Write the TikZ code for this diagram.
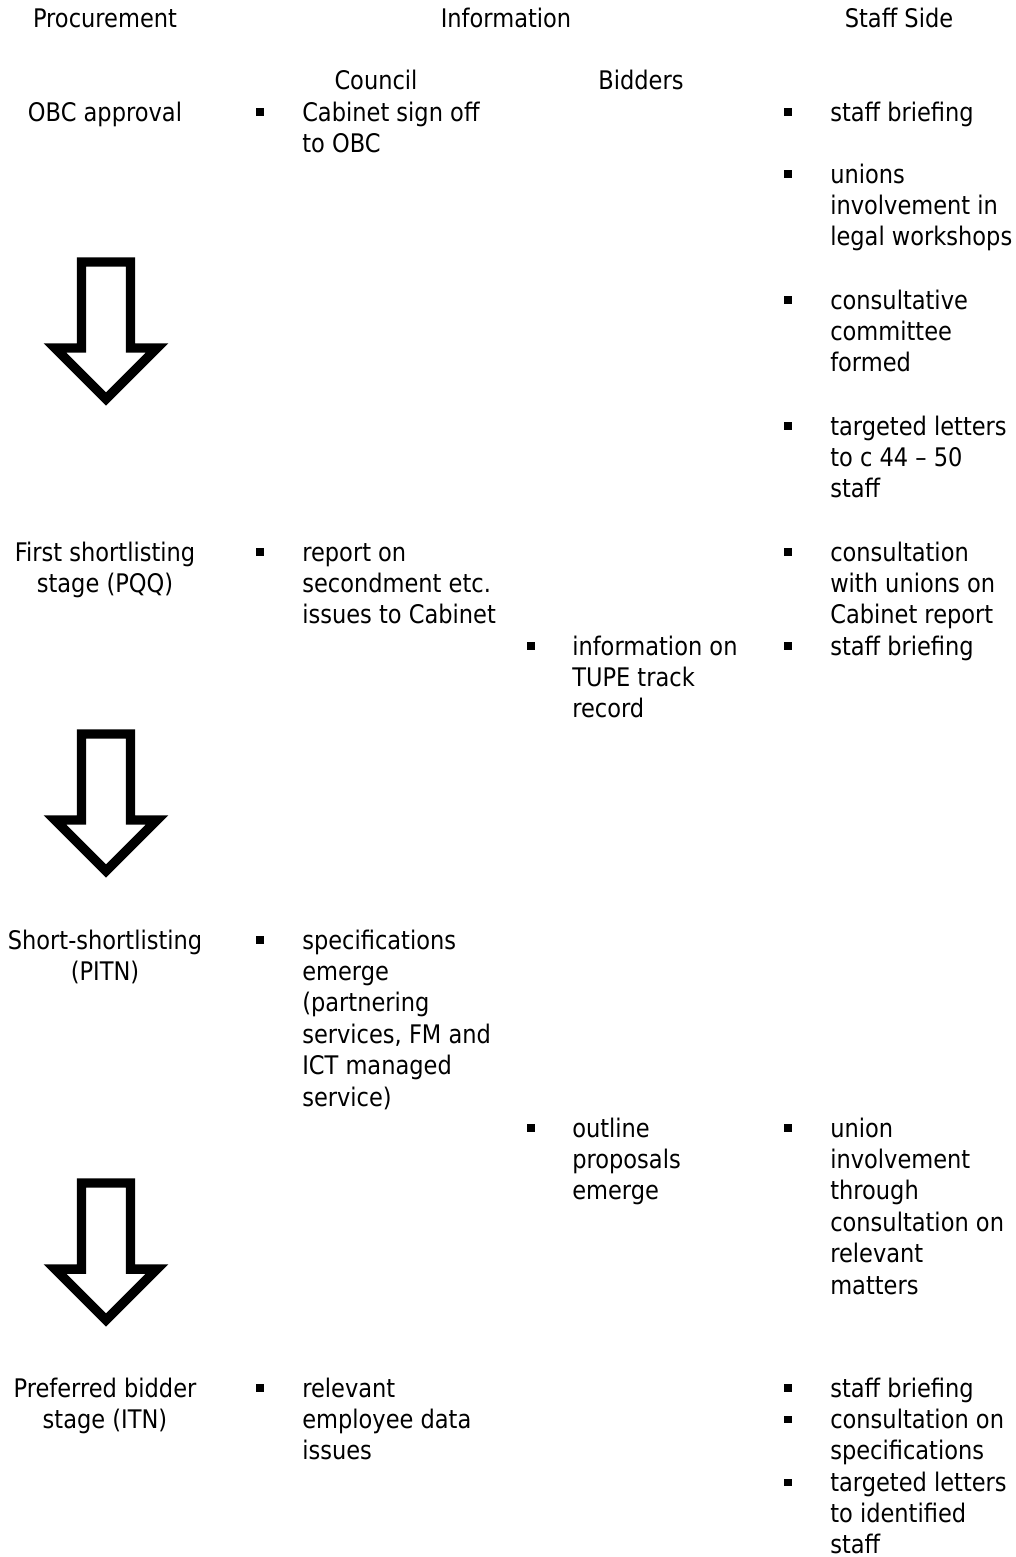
\documentclass[tikz,border=0pt]{standalone}
\usepackage{fontspec}
\setmainfont{DejaVu Sans}[FakeStretch=0.88]
\newcommand{\blkl}[1]{\begin{tabular}[t]{@{}l@{}}#1\end{tabular}}
\newcommand{\blkc}[1]{\begin{tabular}[t]{@{}c@{}}#1\end{tabular}}
\tikzset{
  basefont/.style={font=\fontsize{19.2}{23.6}\selectfont},
  txt/.style={basefont, inner sep=0pt, anchor=base west},
  ctr/.style={basefont, inner sep=0pt, anchor=base},
  bul/.style={fill=black, rectangle, inner sep=0pt, minimum size=5.6pt},
  bigarrow/.style={draw=black, fill=white, line width=7.1pt, miter limit=10}
}
\begin{document}
\begin{tikzpicture}[x=0.75pt, y=-0.75pt]
\useasboundingbox (0,0) rectangle (1016,1557);
% headers
\node[ctr] (hproc) at (105,27) {Procurement};
\node[ctr] (hinfo) at (506,27) {Information};
\node[ctr] (hstaff) at (899,27) {Staff Side};
\node[ctr] (hcouncil) at (376,89) {Council};
\node[ctr] (hbidders) at (641,89) {Bidders};
% arrows
\foreach \T/\nm in {262/a1, 734/a2, 1183/a3}{
  \draw[bigarrow] (81.5,\T+86) -- (81.5,\T) -- (130.5,\T) -- (130.5,\T+86)
    -- (157,\T+86) -- (106,\T+137) -- (55,\T+86) -- cycle;
}
% row 1
\node[ctr] (p1) at (105,121) {OBC approval};
\node[bul] (c1b) at (260,112) {};
\node[txt] (c1) at (302,121) {\blkl{Cabinet sign off\\to OBC}};
\node[bul] (s1b) at (788,112) {};
\node[txt] (s1) at (830,121) {staff briefing};
\node[bul] (s2b) at (788,174) {};
\node[txt] (s2) at (830,183) {\blkl{unions\\involvement in\\legal workshops}};
\node[bul] (s3b) at (788,300) {};
\node[txt] (s3) at (830,309) {\blkl{consultative\\committee\\formed}};
\node[bul] (s4b) at (788,426) {};
\node[txt] (s4) at (830,435) {\blkl{targeted letters\\to c 44 – 50\\staff}};
% row 2
\node[ctr] (p2) at (105,561) {\blkc{First shortlisting\\stage (PQQ)}};
\node[bul] (c2b) at (260,552) {};
\node[txt] (c2) at (302,561) {\blkl{report on\\secondment etc.\\issues to Cabinet}};
\node[bul] (b2b) at (531,646) {};
\node[txt] (b2) at (572,655) {\blkl{information on\\TUPE track\\record}};
\node[bul] (s5b) at (788,552) {};
\node[txt] (s5) at (830,561) {\blkl{consultation\\with unions on\\Cabinet report}};
\node[bul] (s6b) at (788,646) {};
\node[txt] (s6) at (830,655) {staff briefing};
% row 3
\node[ctr] (p3) at (105,949) {\blkc{Short-shortlisting\\(PITN)}};
\node[bul] (c3b) at (260,940) {};
\node[txt] (c3) at (302,949) {\blkl{specifications\\emerge\\(partnering\\services, FM and\\ICT managed\\service)}};
\node[bul] (b3b) at (531,1128) {};
\node[txt] (b3) at (572,1137) {\blkl{outline\\proposals\\emerge}};
\node[bul] (s7b) at (788,1128) {};
\node[txt] (s7) at (830,1137) {\blkl{union\\involvement\\through\\consultation on\\relevant\\matters}};
% row 4
\node[ctr] (p4) at (105,1397) {\blkc{Preferred bidder\\stage (ITN)}};
\node[bul] (c4b) at (260,1388) {};
\node[txt] (c4) at (302,1397) {\blkl{relevant\\employee data\\issues}};
\node[bul] (s8b) at (788,1388) {};
\node[txt] (s8) at (830,1397) {staff briefing};
\node[bul] (s9b) at (788,1419.5) {};
\node[txt] (s9) at (830,1428.5) {\blkl{consultation on\\specifications}};
\node[bul] (s10b) at (788,1482.5) {};
\node[txt] (s10) at (830,1491.5) {\blkl{targeted letters\\to identified}};
\node[txt] (s10c) at (830,1553.5) {staff};
\end{tikzpicture}
\end{document}
